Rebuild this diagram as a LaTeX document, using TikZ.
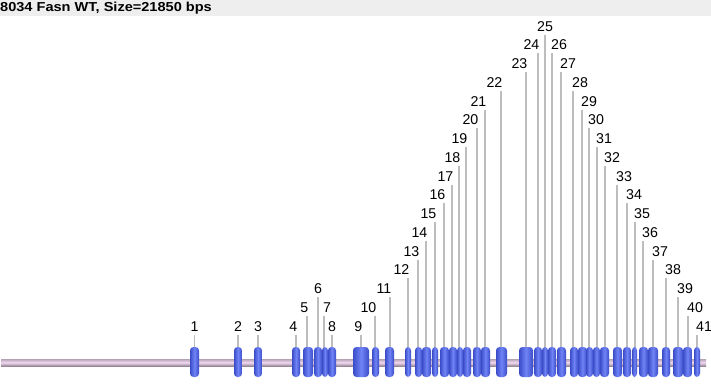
\documentclass[tikz,border=0pt]{standalone}
\usepackage{fontspec}
\setmainfont{Liberation Sans}
\definecolor{hdrbg}{HTML}{EEEEEE}
\definecolor{exmid}{HTML}{7084F6}
\definecolor{exedge}{HTML}{3A4CC8}
\definecolor{bbtop}{HTML}{B4A2B4}
\definecolor{bbmid}{HTML}{F2DAF2}
\definecolor{bbbot}{HTML}{978797}
\definecolor{stem}{HTML}{BDBDBD}
\tikzset{
  exon/.style={rectangle, rounded corners=3.5pt, inner sep=0pt, minimum height=30pt,
    left color=exedge, right color=exedge, middle color=exmid},
  numlabel/.style={inner sep=0pt, font=\fontsize{14.2}{14.2}\selectfont},
  stemline/.style={draw=stem, line width=1.4pt},
}
\begin{document}
\begin{tikzpicture}[x=1pt,y=-1pt]
\useasboundingbox (0,0) rectangle (711,384);
\fill[hdrbg] (0,0) rectangle (711,16);
\node[anchor=base west, inner sep=0pt, font=\bfseries\fontsize{13}{13}\selectfont] (title) at (0,11.8)
  {\scalebox{1.12}[1]{8034 Fasn WT, Size=21850 bps}};
\shade[top color=bbtop, bottom color=bbbot, middle color=bbmid] (1,359) rectangle (706,366);
\foreach \n/\l/\r/\lx/\lev/\an/\tx in {
1/190/199/194.5/0/base/194.5,
2/234/242/238/0/base/238,
3/254/262/258/0/base/258,
4/292/300/296/0/base east/297.5,
5/303/313/307/1/base east/308.5,
6/314/322/318/2/base/318,
7/322/328/324/1/base west/323,
8/328/336/332/0/base/332,
9/353/369/361/0/base east/362.5,
10/372/379/375/1/base east/376.5,
11/385/394/390/2/base east/391.5,
12/405/411/408/3/base east/409.5,
13/415/422/418/4/base east/419.5,
14/422/431/426/5/base east/427.5,
15/432/438/435/6/base east/436.5,
16/440/449/444/7/base east/445.5,
17/449/457/452/8/base east/453.5,
18/457/463/459/9/base east/460.5,
19/463/471/466/10/base east/467.5,
20/473/481/477/11/base east/478.5,
21/481/490/485/12/base east/486.5,
22/496/507/501/13/base east/502.5,
23/519/533/526/14/base east/527.5,
24/534/542/538/15/base east/539.5,
25/542/548/545/16/base/545,
26/548/556/552/15/base west/551,
27/557/566/561/14/base west/560,
28/570/578/573/13/base west/572,
29/578/587/582/12/base west/581,
30/586/593/589/11/base west/588,
31/593/600/597/10/base west/596,
32/600/609/605/9/base west/604,
33/613/622/617/8/base west/616,
34/623/631/627/7/base west/626,
35/632/637/635/6/base west/634,
36/639/648/643/5/base west/642,
37/648/658/653/4/base west/652,
38/662/670/666/3/base west/665,
39/673/683/678/2/base west/677,
40/683/692/688/1/base west/687,
41/694/700/697/0/base west/696}{
  \pgfmathsetmacro\by{331.2-18.75*\lev}
  \pgfmathsetmacro\ty{334.5-18.75*\lev}
  \node[numlabel, anchor=\an] (t\n) at (\tx,\by) {\n};
  \coordinate (c\n) at (\lx,\ty);
  \coordinate (f\n) at (\lx,348);
  \draw[stemline] (c\n) -- (f\n);
}
\foreach \n/\l/\r in {1/190/199,2/234/242,3/254/262,4/292/300,5/303/313,6/314/322,7/322/328,8/328/336,
  9/353/369,10/372/379,11/385/394,12/405/411,13/415/422,14/422/431,15/432/438,16/440/449,17/449/457,
  18/457/463,19/463/471,20/473/481,21/481/490,22/496/507,23/519/533,24/534/542,25/542/548,26/548/556,
  27/557/566,28/570/578,29/578/587,30/586/593,31/593/600,32/600/609,33/613/622,34/623/631,35/632/637,
  36/639/648,37/648/658,38/662/670,39/673/683,40/683/692,41/694/700}{
  \pgfmathsetmacro\w{\r-\l}
  \pgfmathsetmacro\cx{(\l+\r)/2}
  \node[exon, minimum width=\w pt] (e\n) at (\cx,362) {};
}
\end{tikzpicture}
\end{document}
